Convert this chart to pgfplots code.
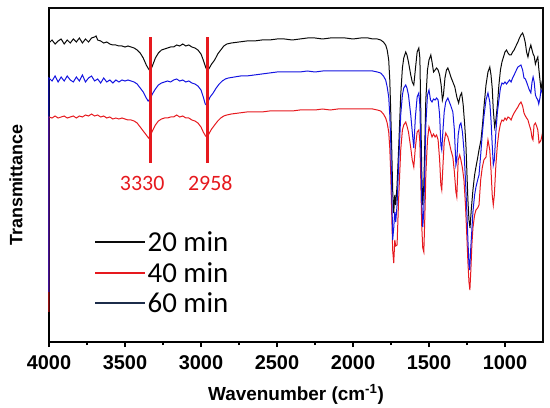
\documentclass[border=0pt]{standalone}
\usepackage{fontspec}
\setmainfont{Liberation Sans}
\newfontfamily\carlito{Carlito}
\usepackage{pgfplots}
\pgfplotsset{compat=1.18}
\definecolor{cBlk}{RGB}{10,10,10}
\definecolor{cBlu}{RGB}{20,20,225}
\definecolor{cRed}{RGB}{230,25,30}
\definecolor{cNavy}{RGB}{28,44,74}
\begin{document}
\begin{tikzpicture}
\path (-49bp,-66bp) rectangle (501bp,342bp);
\begin{axis}[
  name=ax,
  scale only axis, width=494bp, height=334bp,
  at={(0,0)}, anchor=south west,
  x dir=reverse, xmin=750, xmax=4000, ymin=0, ymax=334,
  clip=false,
  axis line style={line width=1.6bp},
  xtick={1000,1500,...,4000}, minor x tick num=1,
  ytick=\empty,
  xtick pos=left, tick align=outside,
  major tick length=5bp, minor tick length=3bp,
  every tick/.style={line width=1.2bp, black},
  /pgf/number format/assume math mode=true,
  /pgf/number format/1000 sep={},
  xticklabel style={font=\fontsize{20}{23}\selectfont\bfseries, yshift=-5bp},
  xlabel={\fontsize{19}{22}\selectfont\bfseries Wavenumber (cm\textsuperscript{-1})},
  xlabel style={at={(axis description cs:0.5,0)}, anchor=base, yshift=-58bp},
  ylabel={\fontsize{18}{21}\selectfont\bfseries Transmittance},
  ylabel style={at={(axis description cs:-0.067,0.47)}, anchor=center, rotate=0},
  legend image code/.code={\draw[#1] (0bp,0bp) -- (50bp,0bp);},
  legend style={at={(0.091,0.335)}, anchor=north west, draw=none, fill=none,
    font=\carlito\fontsize{29}{32}\selectfont, row sep=6bp, inner sep=0pt,
    nodes={inner sep=1.5bp}},
  legend cell align=left,
]
% black (20 min)
\addplot[cBlk, line width=1bp, forget plot] table {
x y
4000 299
3980 302
3960 298
3940 301
3920 303
3900 298
3880 302
3860 299
3840 303
3820 300
3800 304
3780 299
3760 303
3740 300
3720 304
3700 305
3690 306
3680 302
3660 301
3640 299
3620 300
3600 298
3580 297
3560 297
3540 296
3520 296
3500 295
3480 296
3460 295
3440 294
3420 292
3400 289
3380 284
3360 277
3345 273
3334 271
3320 276
3300 284
3280 289
3260 292
3240 293
3220 294
3200 295
3180 295
3160 297
3140 296
3120 298
3100 296
3080 297
3060 295
3040 294
3020 292
3000 288
2985 282
2970 275
2958 271
2945 274
2930 278
2910 282
2890 288
2870 292
2850 296
2830 298
2800 299
2750 300
2700 301
2650 301
2600 302
2550 302
2500 303
2450 303
2400 302
2350 303
2300 304
2250 304
2200 303
2150 304
2100 304
2050 304
2000 303
1950 304
1900 304
1870 303
1840 303
1818 302
1800 300
1785 297
1775 292
1765 282
1758 262
1752 232
1745 192
1739 152
1732 129
1725 147
1719 137
1710 157
1700 192
1686 247
1675 274
1666 284
1653 290
1645 287
1635 280
1620 267
1610 260
1600 257
1590 272
1578 290
1567 294
1560 284
1554 232
1548 172
1541 137
1534 157
1527 202
1521 242
1510 272
1500 282
1488 287
1480 280
1470 270
1460 272
1450 274
1440 272
1430 267
1420 257
1412 242
1405 247
1395 264
1385 272
1376 274
1366 270
1356 265
1343 260
1330 255
1317 245
1305 239
1295 246
1285 249
1275 237
1265 217
1257 197
1250 167
1244 142
1237 122
1230 114
1222 132
1211 152
1200 167
1191 175
1180 184
1171 192
1158 202
1148 217
1139 234
1125 257
1112 270
1100 275
1092 267
1084 254
1077 232
1068 215
1060 222
1050 237
1040 257
1030 272
1020 280
1010 285
1000 290
990 292
980 289
970 287
960 287
950 290
940 292
928 296
915 300
905 304
895 307
884 309
875 305
866 299
858 290
849 285
840 292
830 297
822 292
815 288
808 286
800 278
792 282
784 285
778 274
770 262
763 252
756 260
750 264
};
% red (40 min)
\addplot[cRed, line width=1bp, forget plot] table {
x y
4000 30
4000 225
3980 224
3960 226
3940 224
3920 225
3900 226
3880 224
3860 225
3840 226
3820 224
3800 226
3780 225
3760 227
3740 226
3720 228
3700 226
3680 227
3660 225
3640 226
3620 224
3600 225
3580 223
3560 224
3540 223
3520 224
3500 223
3480 222
3460 222
3440 221
3420 219
3400 215
3380 211
3360 207
3345 204
3334 206
3320 211
3300 217
3280 221
3260 223
3240 224
3220 224
3200 225
3180 225
3160 227
3140 225
3120 226
3100 224
3080 224
3060 222
3040 221
3020 219
3000 215
2985 210
2970 206
2958 205
2945 209
2930 213
2910 217
2890 221
2870 224
2850 226
2830 227
2800 228
2750 229
2700 230
2650 230
2600 230
2550 231
2500 231
2450 231
2400 231
2350 232
2300 232
2250 232
2200 233
2150 232
2100 233
2050 233
2000 233
1950 233
1900 233
1870 233
1840 232
1818 231
1800 228
1785 224
1775 219
1765 210
1758 194
1752 170
1745 127
1739 92
1732 79
1725 102
1719 96
1710 97
1700 142
1686 192
1675 212
1666 217
1653 220
1645 216
1635 210
1620 194
1610 182
1600 175
1590 194
1578 210
1567 212
1560 200
1554 162
1548 117
1541 94
1534 90
1527 127
1521 167
1510 202
1500 215
1490 210
1480 205
1470 208
1460 205
1450 207
1440 202
1430 182
1422 157
1416 152
1408 177
1400 200
1390 209
1376 205
1366 199
1356 192
1343 185
1333 170
1323 150
1317 145
1308 182
1298 187
1290 182
1280 174
1270 162
1260 137
1250 102
1244 80
1237 60
1231 52
1224 74
1218 97
1211 114
1200 127
1191 132
1180 134
1171 137
1160 162
1150 174
1139 182
1125 185
1112 202
1100 192
1092 172
1084 147
1077 137
1070 147
1060 177
1050 197
1040 210
1030 218
1020 222
1010 221
1000 224
990 222
980 225
970 224
960 222
950 226
940 229
928 232
915 235
905 238
895 240
884 236
875 229
866 226
858 224
849 222
840 217
830 212
822 204
816 202
809 217
800 219
792 216
784 212
776 199
770 200
763 202
756 207
750 212
};
% blue (60 min)
\addplot[cBlu, line width=1bp, forget plot] table {
x y
4000 50
4000 264
3980 261
3960 266
3940 260
3920 265
3900 261
3880 266
3860 262
3840 260
3820 265
3800 261
3780 267
3760 260
3740 264
3720 266
3700 261
3680 263
3660 259
3640 264
3620 260
3600 262
3580 259
3560 262
3540 260
3520 262
3500 261
3480 262
3460 261
3440 260
3420 258
3400 254
3380 250
3360 244
3348 241
3334 243
3320 248
3300 253
3280 257
3260 259
3240 260
3220 261
3200 260
3180 262
3160 263
3140 261
3120 262
3100 260
3080 261
3060 259
3040 258
3020 256
3000 252
2985 245
2972 238
2965 237
2955 240
2940 245
2920 249
2900 254
2880 258
2860 261
2840 263
2820 264
2780 265
2740 266
2700 266
2650 267
2600 268
2550 269
2500 270
2450 270
2400 270
2350 270
2300 271
2250 270
2200 271
2150 271
2100 271
2050 271
2000 271
1950 271
1900 271
1870 271
1840 270
1818 269
1800 266
1785 262
1775 255
1765 245
1758 227
1752 202
1745 152
1739 102
1732 114
1725 130
1719 120
1710 137
1700 177
1686 227
1675 247
1666 254
1653 257
1645 254
1635 247
1620 227
1610 210
1600 194
1590 224
1578 245
1567 249
1560 237
1554 192
1548 142
1541 115
1534 132
1527 177
1521 217
1510 247
1500 252
1490 242
1480 240
1470 243
1460 242
1450 244
1440 242
1430 227
1422 197
1416 192
1408 212
1400 230
1390 240
1376 244
1366 240
1356 236
1343 230
1333 212
1323 177
1317 182
1308 207
1298 217
1290 219
1280 210
1270 192
1260 162
1250 127
1244 102
1237 77
1232 72
1226 92
1218 112
1211 130
1200 147
1191 155
1180 162
1171 167
1160 187
1150 207
1139 225
1125 242
1112 249
1100 240
1092 222
1084 197
1077 177
1070 182
1060 210
1050 230
1040 242
1030 254
1020 259
1010 258
1000 260
990 258
980 260
970 262
960 260
950 264
940 267
928 271
915 275
905 276
895 277
884 272
875 264
866 263
858 260
849 256
840 252
830 249
822 260
815 265
808 260
800 247
792 244
784 242
778 238
770 244
763 252
756 250
750 254
};
% top and right frame
\addplot[cBlk, line width=1.6bp, line cap=rect, forget plot] coordinates {(4000,334) (750,334) (750,0)};
% marker lines
\addplot[cRed, line width=3bp, forget plot] coordinates {(3330,179) (3330,305)};
\addplot[cRed, line width=3bp, forget plot] coordinates {(2958,179) (2958,305)};
\node[cRed, font=\carlito\fontsize{22}{25}\selectfont] at (axis cs:3387,159) {3330};
\node[cRed, font=\carlito\fontsize{22}{25}\selectfont] at (axis cs:2939,159) {2958};
% legend
\addlegendimage{cBlk, line width=2bp}
\addlegendentry{20 min}
\addlegendimage{cRed, line width=2bp}
\addlegendentry{40 min}
\addlegendimage{cNavy, line width=2bp}
\addlegendentry{60 min}
\end{axis}
\end{tikzpicture}
\end{document}
